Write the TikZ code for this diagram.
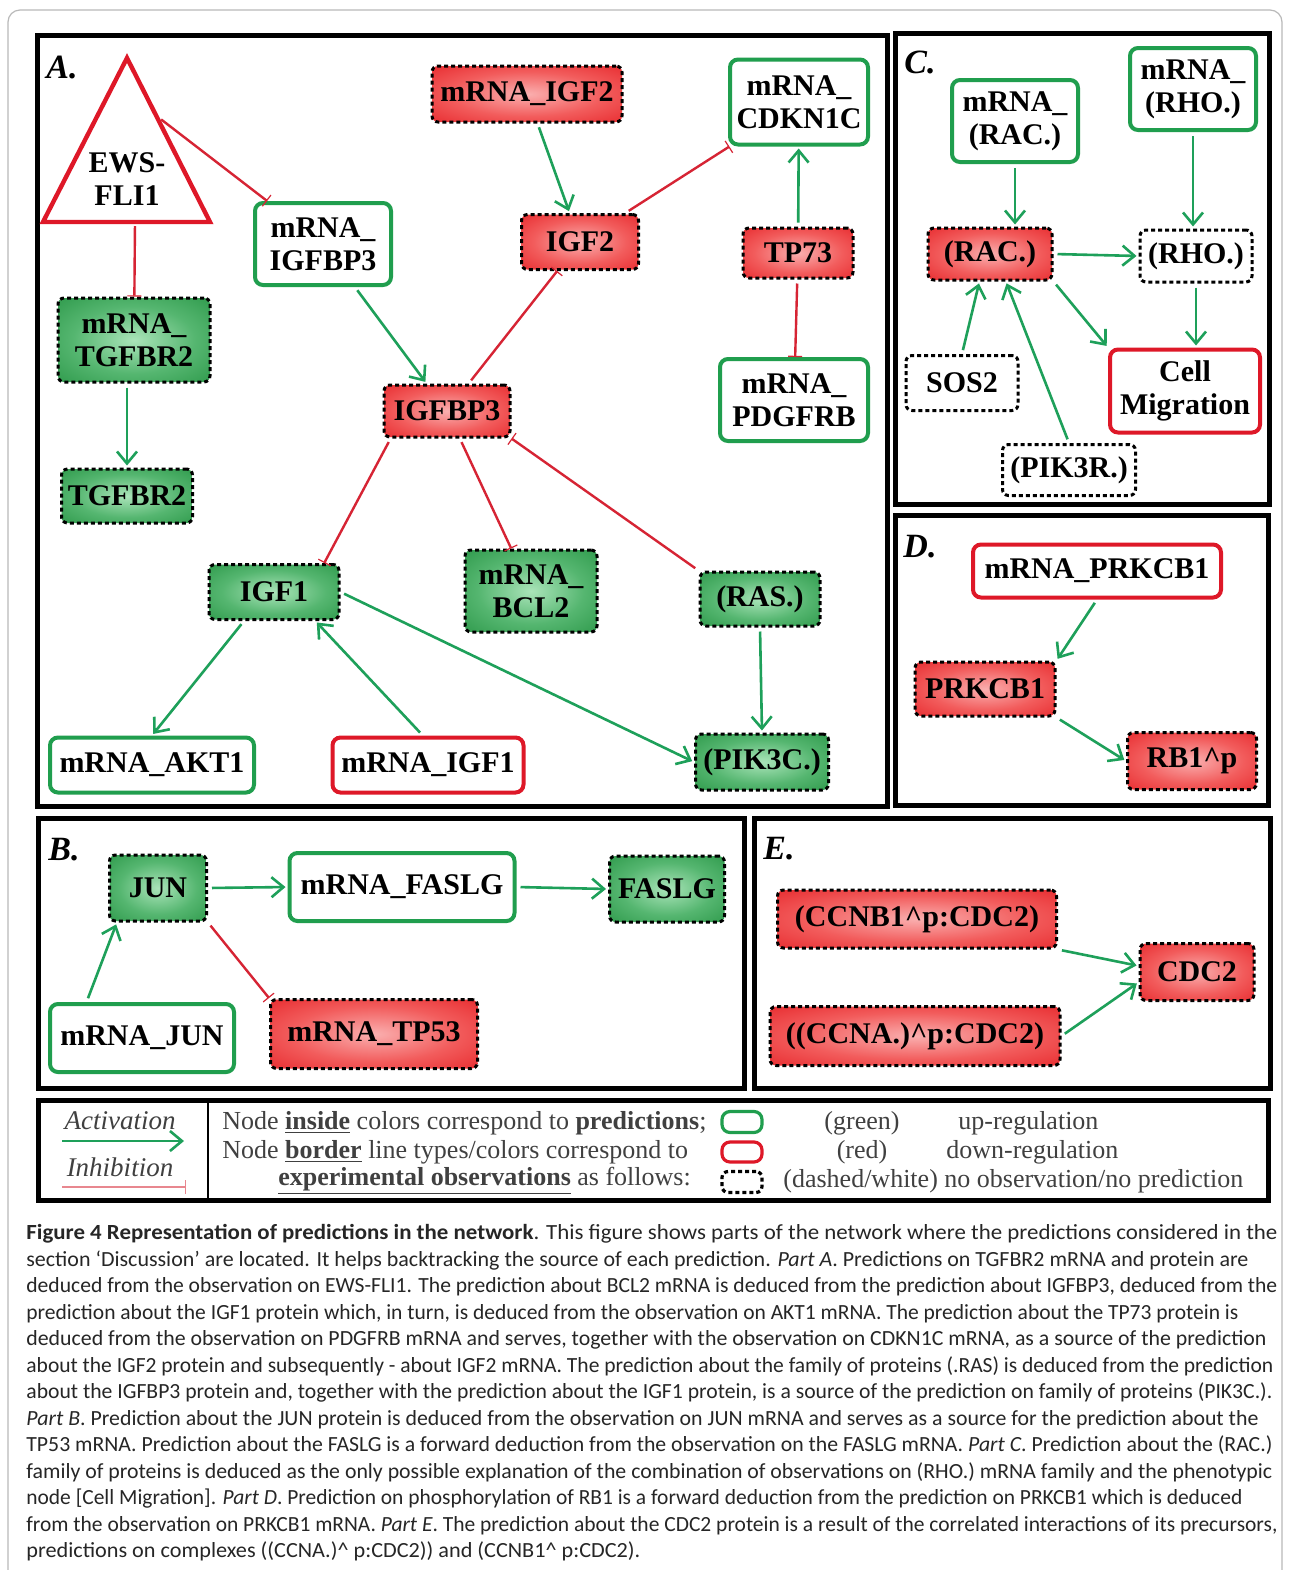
\documentclass[tikz,border=0pt]{standalone}
\usepackage{fontspec}
\setmainfont{Liberation Serif}
\newfontfamily\capfont{Carlito}
\usepackage{graphicx}
\usetikzlibrary{arrows.meta}

\definecolor{ngreen}{RGB}{32,158,78}
\definecolor{nred}{RGB}{222,24,40}
\definecolor{agreen}{RGB}{30,160,90}
\definecolor{ired}{RGB}{214,36,52}
\definecolor{ginner}{RGB}{170,228,185}
\definecolor{gmid}{RGB}{85,182,112}
\definecolor{gouter}{RGB}{25,138,55}
\definecolor{rinner}{RGB}{250,175,175}
\definecolor{rmid}{RGB}{242,92,92}
\definecolor{router}{RGB}{226,16,22}

\pgfdeclareradialshading{gshade}{\pgfpoint{0bp}{0bp}}{color(0bp)=(ginner); color(20bp)=(gmid); color(46bp)=(gouter); color(80bp)=(gouter)}
\pgfdeclareradialshading{rshade}{\pgfpoint{0bp}{0bp}}{color(0bp)=(rinner); color(20bp)=(rmid); color(46bp)=(router); color(80bp)=(router)}

\newcommand{\nodefont}{\fontsize{15}{16.5}\selectfont\bfseries}
\newcommand{\capline}[2]{\resizebox{#1}{\height}{#2}}

\begin{document}
\begin{tikzpicture}[x=0.5pt, y=-0.5pt,
  >={Straight Barb[length=6pt,width=10pt]},
  every node/.style={font=\nodefont, align=center, inner sep=0pt},
  obsgreen/.style={draw=ngreen, line width=2pt, rounded corners=4pt, fill=white},
  obsred/.style={draw=nred, line width=2pt, rounded corners=4pt, fill=white},
  predgreen/.style={shading=gshade, draw=black, line width=1.5pt, dash pattern=on 2pt off 1.5pt, rounded corners=3pt},
  predred/.style={shading=rshade, draw=black, line width=1.5pt, dash pattern=on 2pt off 1.5pt, rounded corners=3pt},
  noobs/.style={fill=white, draw=black, line width=1.5pt, dash pattern=on 2pt off 1.5pt, rounded corners=3pt},
  act/.style={->, draw=agreen, line width=1.3pt, shorten >=1pt, shorten <=2pt},
  inh/.style={-{Bar[width=7pt,line width=0.6pt]}, draw=ired, line width=1.2pt, shorten <=2pt},
  panel/.style={draw=black, line width=2.5pt},
  lbl/.style={font=\fontsize{17}{17}\selectfont\bfseries\itshape},
  legtext/.style={anchor=west, font=\fontsize{13}{14}\selectfont, text=black!75},
  capt/.style={anchor=base west, font=\capfont\fontsize{10.8}{13}\selectfont, text=black!85}]

\useasboundingbox (0,0) rectangle (1290,1570);
\fill[white] (0,0) rectangle (1290,1570);
\begin{scope}
\clip (0,0) rectangle (1290,1570);
\draw[gray!55, line width=0.6pt, rounded corners=6pt] (8,10) rectangle (1282,1620);
\end{scope}

% panel frames
\draw[panel] (37,35) rectangle (887,806);
\draw[panel] (895,33) rectangle (1269,504);
\draw[panel] (895,515) rectangle (1268,805);
\draw[panel] (38,818) rectangle (744,1088);
\draw[panel] (754,818) rectangle (1270,1088);

\node[lbl] (lblA) at (62,68) {A.};
\node[lbl] (lblB) at (64,850) {B.};
\node[lbl] (lblC) at (920,62) {C.};
\node[lbl] (lblD) at (920,547) {D.};
\node[lbl] (lblE) at (779,849) {E.};

% Part A
\draw[nred, line width=2.2pt, line join=miter] (127,58) -- (210,222) -- (43,222) -- cycle;
\node (ews) at (127,179) {EWS-\\FLI1};
\coordinate (ewsr) at (158,117);
\coordinate (ewsb) at (135,222);

\node[predred, minimum width=95pt, minimum height=28pt] (migf2) at (527,94) {mRNA\_IGF2};
\node[obsgreen, minimum width=69pt, minimum height=42.5pt] (mcdkn) at (799,102) {mRNA\_\\CDKN1C};
\node[obsgreen, minimum width=68pt, minimum height=41pt] (migfbp3) at (323,244) {mRNA\_\\IGFBP3};
\node[predred, minimum width=58.5pt, minimum height=27.5pt] (igf2) at (580,242) {IGF2};
\node[predred, minimum width=55pt, minimum height=25pt] (tp73) at (798,253) {TP73};
\node[predgreen, minimum width=76pt, minimum height=42pt] (mtgfbr2) at (134,340) {mRNA\_\\TGFBR2};
\node[predred, minimum width=63pt, minimum height=26pt] (igfbp3) at (447,411) {IGFBP3};
\node[obsgreen, minimum width=74pt, minimum height=41pt] (mpdgfrb) at (794,400) {mRNA\_\\PDGFRB};
\node[predgreen, minimum width=65.5pt, minimum height=27pt] (tgfbr2) at (127,496) {TGFBR2};
\node[predgreen, minimum width=65pt, minimum height=27.5pt] (igf1) at (274,592) {IGF1};
\node[predgreen, minimum width=66pt, minimum height=41pt] (mbcl2) at (531,591) {mRNA\_\\BCL2};
\node[predgreen, minimum width=60pt, minimum height=27pt] (ras) at (760,599) {(RAS.)};
\node[obsgreen, minimum width=102pt, minimum height=27.5pt] (makt1) at (152,765) {mRNA\_AKT1};
\node[obsred, minimum width=95.5pt, minimum height=27.5pt] (migf1) at (428,765) {mRNA\_IGF1};
\node[predgreen, minimum width=66.5pt, minimum height=28pt] (pik3c) at (762,762) {(PIK3C.)};

\draw[inh] (ewsr) -- (migfbp3);
\draw[inh] (ewsb) -- (mtgfbr2);
\draw[act] (mtgfbr2.south -| tgfbr2.north) -- (tgfbr2.north);
\draw[act] (migfbp3) -- (igfbp3);
\draw[act] (migf2) -- (igf2);
\draw[inh] (igf2) -- (mcdkn);
\draw[act] (tp73) -- (mcdkn);
\draw[inh] (tp73) -- (mpdgfrb);
\draw[inh] (igfbp3) -- (igf2);
\draw[inh] (igfbp3.206) -- (igf1.30);
\draw[inh] (igfbp3) -- (mbcl2);
\draw[inh] (ras.north west) -- (igfbp3.south east);
\draw[act] (igf1.224) -- (makt1.north);
\draw[act] (migf1.100) -- (igf1.-35);
\draw[act] (igf1.east) -- (pik3c.west);
\draw[act] (ras.south) -- (pik3c.north);

% Part C
\node[obsgreen, minimum width=63pt, minimum height=41pt] (mrac) at (1015,121) {mRNA\_\\(RAC.)};
\node[obsgreen, minimum width=63pt, minimum height=41pt] (mrho) at (1193,89) {mRNA\_\\(RHO.)};
\node[predred, minimum width=62pt, minimum height=26pt] (rac) at (990,254) {(RAC.)};
\node[noobs, minimum width=56pt, minimum height=26pt] (rho) at (1196,256) {(RHO.)};
\node[noobs, minimum width=56pt, minimum height=27.5pt] (sos2) at (962,383) {SOS2};
\node[obsred, minimum width=75pt, minimum height=41.5pt] (cellmig) at (1185,391) {Cell\\Migration};
\node[noobs, minimum width=66.5pt, minimum height=25.5pt] (pik3r) at (1069,470) {(PIK3R.)};

\draw[act] (mrac.south) -- (mrac.south |- rac.north);
\draw[act] (mrho.south) -- (mrho.south |- rho.north);
\draw[act] (rac.east) -- (rho.west);
\draw[act] (rac.south east) -- (cellmig.north west);
\draw[act] (rho.south) -- (rho.south |- cellmig.north);
\draw[act] (sos2.north) -- (rac.249);
\draw[act] (pik3r.north) -- (rac.300);

% Part D
\node[obsred, minimum width=124pt, minimum height=26.5pt] (mprkcb1) at (1097,571) {mRNA\_PRKCB1};
\node[predred, minimum width=70pt, minimum height=27pt] (prkcb1) at (985,689) {PRKCB1};
\node[predred, minimum width=64.5pt, minimum height=28.5pt] (rb1p) at (1192,761) {RB1\textasciicircum p};

\draw[act] (mprkcb1.south) -- (prkcb1.north east);
\draw[act] (prkcb1.south east) -- (rb1p.west);

% Part B
\node[predgreen, minimum width=48.5pt, minimum height=33pt] (jun) at (158,888) {JUN};
\node[obsgreen, minimum width=112.5pt, minimum height=34pt] (mfaslg) at (402,887) {mRNA\_FASLG};
\node[predgreen, minimum width=57.5pt, minimum height=33pt] (faslg) at (667,889) {FASLG};
\node[obsgreen, minimum width=92pt, minimum height=34pt] (mjun) at (142,1038) {mRNA\_JUN};
\node[predred, minimum width=103.5pt, minimum height=34.5pt] (mtp53) at (374,1034) {mRNA\_TP53};

\draw[act] (jun.east) -- (mfaslg.west);
\draw[act] (mfaslg.east) -- (faslg.west);
\draw[act] (mjun.147) -- (jun.220);
\draw[inh] (jun.south east) -- (mtp53.north west);

% Part E
\node[predred, minimum width=139.5pt, minimum height=29pt] (ccnb1) at (917,919) {(CCNB1\textasciicircum p:CDC2)};
\node[predred, minimum width=145pt, minimum height=29.5pt] (ccna) at (915,1036) {((CCNA.)\textasciicircum p:CDC2)};
\node[predred, minimum width=57pt, minimum height=28.5pt] (cdc2) at (1197,972) {CDC2};

\draw[act] (ccnb1.south east) -- (cdc2.174);
\draw[act] (ccna.east) -- (cdc2.190);

% -------- legend -----------
\draw[panel] (38,1100) rectangle (1268,1200);
\draw[line width=1.2pt] (208,1100) -- (208,1200);

\node[font=\fontsize{13.5}{14}\selectfont\itshape, text=black!75] (lact) at (120,1121) {Activation};
\node[font=\fontsize{13.5}{14}\selectfont\itshape, text=black!75] (linh) at (120,1167) {Inhibition};
\coordinate (act1) at (62,1141);
\coordinate (act2) at (186,1141);
\coordinate (inh1) at (62,1187);
\coordinate (inh2) at (186,1187);
\draw[act, shorten <=0pt] (act1) -- (act2);
\draw[inh, draw=ired!55, line width=1pt, shorten <=0pt] (inh1) -- (inh2);

\node[legtext] (leg1) at (222,1123) {Node \underline{\textbf{inside}} colors correspond to \textbf{predictions};};
\node[legtext] (leg2) at (222,1152) {Node \underline{\textbf{border}} line types/colors correspond to};
\node[legtext] (leg3) at (278,1181) {\underline{\textbf{experimental observations}} as follows:};

\node[obsgreen, line width=1.6pt, minimum width=20pt, minimum height=10.5pt] (icgreen) at (742,1122) {};
\node[obsred, line width=1.6pt, minimum width=20pt, minimum height=10pt] (icred) at (742,1152) {};
\node[noobs, line width=1.6pt, minimum width=20pt, minimum height=10.5pt] (icdash) at (742,1182) {};

\node[legtext, anchor=center] (leggreen) at (862,1123) {(green)};
\node[legtext, anchor=center] (legred) at (862,1152) {(red)};
\node[legtext] (legdash) at (783,1181) {(dashed/white) no observation/no prediction};
\node[legtext] (legup) at (958,1123) {up-regulation};
\node[legtext] (legdown) at (946,1152) {down-regulation};

% -------- caption -----------
\node[capt] (cap1) at (26,1239.5) {\capline{625.5pt}{\textbf{Figure 4 Representation of predictions in the network}. This figure shows parts of the network where the predictions considered in the}};
\node[capt] (cap2) at (26,1266) {\capline{611pt}{section ‘Discussion’ are located. It helps backtracking the source of each prediction. \textit{Part A}. Predictions on TGFBR2 mRNA and protein are}};
\node[capt] (cap3) at (26,1292.5) {\capline{625.5pt}{deduced from the observation on EWS-FLI1. The prediction about BCL2 mRNA is deduced from the prediction about IGFBP3, deduced from the}};
\node[capt] (cap4) at (26,1319) {\capline{606pt}{prediction about the IGF1 protein which, in turn, is deduced from the observation on AKT1 mRNA. The prediction about the TP73 protein is}};
\node[capt] (cap5) at (26,1345.5) {\capline{620pt}{deduced from the observation on PDGFRB mRNA and serves, together with the observation on CDKN1C mRNA, as a source of the prediction}};
\node[capt] (cap6) at (26,1372) {\capline{623.5pt}{about the IGF2 protein and subsequently - about IGF2 mRNA. The prediction about the family of proteins (.RAS) is deduced from the prediction}};
\node[capt] (cap7) at (26,1398.5) {\capline{623pt}{about the IGFBP3 protein and, together with the prediction about the IGF1 protein, is a source of the prediction on family of proteins (PIK3C.).}};
\node[capt] (cap8) at (26,1425) {\capline{616pt}{\textit{Part B}. Prediction about the JUN protein is deduced from the observation on JUN mRNA and serves as a source for the prediction about the}};
\node[capt] (cap9) at (26,1451.5) {\capline{623pt}{TP53 mRNA. Prediction about the FASLG is a forward deduction from the observation on the FASLG mRNA. \textit{Part C}. Prediction about the (RAC.)}};
\node[capt] (cap10) at (26,1478) {\capline{623pt}{family of proteins is deduced as the only possible explanation of the combination of observations on (RHO.) mRNA family and the phenotypic}};
\node[capt] (cap11) at (26,1504.5) {\capline{608pt}{node [Cell Migration]. \textit{Part D}. Prediction on phosphorylation of RB1 is a forward deduction from the prediction on PRKCB1 which is deduced}};
\node[capt] (cap12) at (26,1531) {\capline{625.5pt}{from the observation on PRKCB1 mRNA. \textit{Part E}. The prediction about the CDC2 protein is a result of the correlated interactions of its precursors,}};
\node[capt] (cap13) at (26,1557.5) {\capline{307pt}{predictions on complexes ((CCNA.)\textasciicircum{} p:CDC2)) and (CCNB1\textasciicircum{} p:CDC2).}};
\end{tikzpicture}
\end{document}
